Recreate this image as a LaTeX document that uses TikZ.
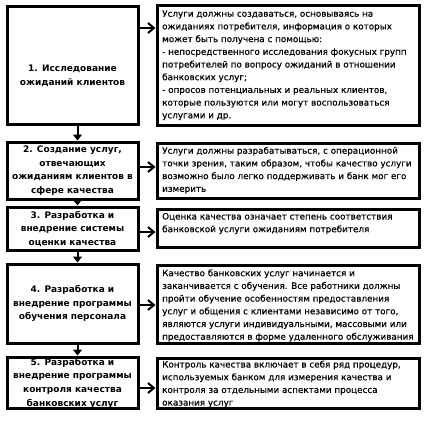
\documentclass[tikz,border=0pt]{standalone}
\usepackage{fontspec}
\setmainfont{DejaVu Sans}
\newfontfamily\rfont[FakeBold=0.6]{DejaVu Sans}
\newcommand\firstline{\rule{0pt}{7.5pt}}
\usetikzlibrary{arrows.meta}
\begin{document}
\begin{tikzpicture}[x=1pt,y=-1pt,
  box/.style={draw, line width=3pt, inner sep=0pt},
  lbox/.style={box, minimum width=131pt},
  rbox/.style={box, minimum width=262pt},
  ltext/.style={align=center, inner sep=0pt, font=\bfseries\fontsize{9}{13.6}\selectfont},
  rtext/.style={align=left, inner sep=0pt, anchor=north west, font=\rfont\fontsize{8.8}{12.7}\selectfont},
  harrow/.style={line width=2pt, -{Straight Barb[length=6pt,width=10pt,line width=2pt]}},
  varrow/.style={line width=2pt, -{Triangle[length=6pt,width=9pt]}}]
\useasboundingbox (0,0) rectangle (427,420);
\fill[white] (0,0) rectangle (427,420);
% left boxes
\node[lbox, minimum height=117pt] (L1) at (72.5,65.5) {};
\node[lbox, minimum height=57pt] (L2) at (72.5,170.5) {};
\node[lbox, minimum height=43pt] (L3) at (72.5,228.5) {};
\node[lbox, minimum height=79pt] (L4) at (72.5,303.5) {};
\node[lbox, minimum height=51pt] (L5) at (72.5,382.5) {};
% right boxes
\node[rbox, minimum height=119pt] (R1) at (288,65.5) {};
\node[rbox, minimum height=55pt] (R2) at (288,170.5) {};
\node[rbox, minimum height=38pt] (R3) at (288,228) {};
\node[rbox, minimum height=78pt] (R4) at (288,304) {};
\node[rbox, minimum height=50pt] (R5) at (288,383) {};
% left texts
\node[ltext] (t1) at (72.5,76) {1. Исследование\\ожиданий клиентов};
\node[ltext] (t2) at (72.5,170.5) {2. Создание услуг,\\отвечающих\\ожиданиям клиентов в\\сфере качества};
\node[ltext] (t3) at (72.5,229) {3. Разработка и\\внедрение системы\\оценки качества};
\node[ltext] (t4) at (72.5,303.5) {4. Разработка и\\внедрение программы\\обучения персонала};
\node[ltext] (t5) at (72.5,383) {5. Разработка и\\внедрение программы\\контроля качества\\банковских услуг};
% right texts
\node[rtext] (s1) at (162,9) {\firstline Услуги должны создаваться, основываясь на\\ожиданиях потребителя, информация о которых\\может быть получена с помощью:\\- непосредственного исследования фокусных групп\\потребителей по вопросу ожиданий в отношении\\банковских услуг;\\- опросов потенциальных и реальных клиентов,\\которые пользуются или могут воспользоваться\\услугами и др.};
\node[rtext] (s2) at (162,146) {\firstline Услуги должны разрабатываться, с операционной\\точки зрения, таким образом, чтобы качество услуги\\возможно было легко поддерживать и банк мог его\\измерить};
\node[rtext] (s3) at (162,211.8) {\firstline Оценка качества означает степень соответствия\\банковской услуги ожиданиям потребителя};
\node[rtext] (s4) at (162,268.5) {\firstline Качество банковских услуг начинается и\\заканчивается с обучения. Все работники должны\\пройти обучение особенностям предоставления\\услуг и общения с клиентами независимо от того,\\являются услуги индивидуальными, массовыми или\\предоставляются в форме удаленного обслуживания};
\node[rtext] (s5) at (162,359.8) {\firstline Контроль качества включает в себя ряд процедур,\\используемых банком для измерения качества и\\контроля за отдельными аспектами процесса\\оказания услуг};
% horizontal arrows
\draw[harrow] ([yshift=37.5pt]L1.east) -- ([yshift=37.5pt]R1.west);
\draw[harrow] ([yshift=3.5pt]L2.east) -- ([yshift=3.5pt]R2.west);
\draw[harrow] ([yshift=-3.5pt]L3.east) -- ([yshift=-4pt]R3.west);
\draw[harrow] ([yshift=-1.5pt]L4.east) -- ([yshift=-1pt]R4.west);
\draw[harrow] ([yshift=-5.5pt]L5.east) -- ([yshift=-5pt]R5.west);
% vertical arrows
\draw[varrow] ([xshift=5pt]L1.south) -- ([xshift=5pt]L2.north);
\draw[varrow] ([xshift=5pt]L2.south) -- ([xshift=5pt]L3.north);
\draw[varrow] ([xshift=5pt]L3.south) -- ([xshift=5pt]L4.north);
\draw[varrow] ([xshift=5pt]L4.south) -- ([xshift=5pt]L5.north);
\end{tikzpicture}
\end{document}
